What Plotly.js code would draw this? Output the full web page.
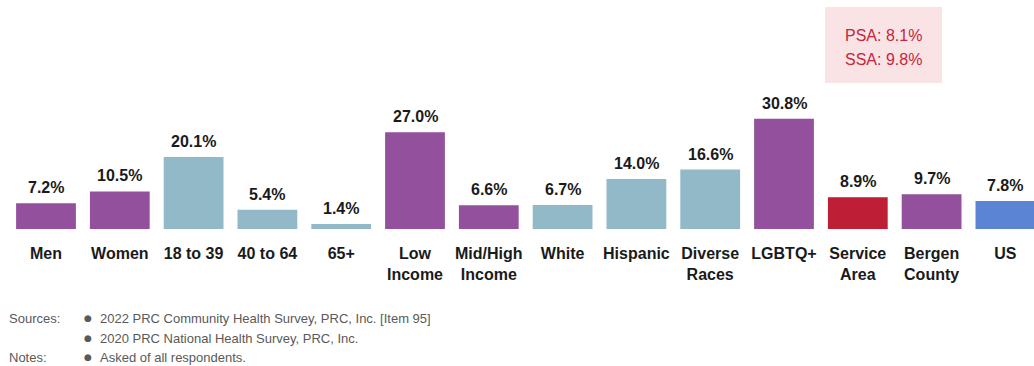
<!DOCTYPE html>
<html><head><meta charset="utf-8">
<script src="https://cdn.plot.ly/plotly-3.0.1.min.js"></script>
<style>html,body{margin:0;padding:0;background:#fff}#chart{width:1034px;height:366px}</style>
</head><body><div id="chart"></div>
<script>
var categories = ["Men","Women","18 to 39","40 to 64","65+","Low<br>Income","Mid/High<br>Income","White","Hispanic","Diverse<br>Races","LGBTQ+","Service<br>Area","Bergen<br>County","US"];
var values = [7.2,10.5,20.1,5.4,1.4,27.0,6.6,6.7,14.0,16.6,30.8,8.9,9.7,7.8];
var groups = ["demo","demo","age","age","age","demo","demo","age","age","age","demo","service","county","us"];
var calloutLines = ["PSA: 8.1%","SSA: 9.8%"];
var sourceLines = ["2022 PRC Community Health Survey, PRC, Inc. [Item 95]","2020 PRC National Health Survey, PRC, Inc."];
var noteLines = ["Asked of all respondents."];

var groupColor = {demo:"#93509D", age:"#91B9C8", service:"#BF1E37", county:"#93509D", us:"#5B84D4"};
var W = 1034, H = 366, mb = 137, plotH = H - mb;
var pxPerUnit = 3.58;
var pitch = 73.8, firstCenter = 46;
var x0 = -firstCenter / pitch;
function px(X){ return X / W; }
function py(Y){ return (plotH - Y) / plotH; }
var REG = "Liberation Sans, Arial, sans-serif";

var trace = {
  type: "bar", x: categories, y: values,
  marker: {color: groups.map(function(g){return groupColor[g];})},
  hoverinfo: "none"
};

var annotations = categories.map(function(c, i){
  return {x: c, y: values[i], xref: "x", yref: "y", text: values[i].toFixed(1) + "%",
    showarrow: false, yanchor: "bottom", yshift: 5,
    font: {family: REG, size: 16, color: "#1a1a1a", weight: "bold"}};
});
calloutLines.forEach(function(t, i){
  annotations.push({xref:"paper", yref:"paper", x: px(843), y: py([35, 60][i]), xanchor:"left", yanchor:"middle",
    align:"left", showarrow:false, text: t, font:{family: REG, size: 16, color:"#C8243E"}});
});
var footFont = {family: REG, size: 13, color:"#595959"};
annotations.push({xref:"paper", yref:"paper", x: px(7), y: py(318), xanchor:"left", yanchor:"middle", showarrow:false, text:"Sources:", font: footFont});
annotations.push({xref:"paper", yref:"paper", x: px(7), y: py(357), xanchor:"left", yanchor:"middle", showarrow:false, text:"Notes:", font: footFont});
sourceLines.concat(noteLines).forEach(function(t, i){
  var Y = [318, 338, 357][i];
  annotations.push({xref:"paper", yref:"paper", x: px(88), y: py(Y), xanchor:"center", yanchor:"middle", showarrow:false, text:"●", font:{family: "DejaVu Sans, sans-serif", size: 9, color:"#595959"}});
  annotations.push({xref:"paper", yref:"paper", x: px(98), y: py(Y), xanchor:"left", yanchor:"middle", showarrow:false, text:t, font: footFont});
});

var layout = {
  width: W, height: H,
  margin: {l:0, r:0, t:0, b:mb, pad:0},
  paper_bgcolor:"#fff", plot_bgcolor:"#fff",
  showlegend:false, bargap: 0.19,
  xaxis: {type:"category", range:[x0, x0 + W / pitch], showgrid:false, zeroline:false, showline:false, ticks:"",
    ticklabelstandoff: 13,
    tickfont:{family: REG, size:16, color:"#1a1a1a", weight:"bold"}, fixedrange:true},
  yaxis: {range:[0, plotH / pxPerUnit], visible:false, fixedrange:true},
  shapes: [{type:"rect", xref:"paper", yref:"paper", x0: px(825), x1: px(942), y0: py(83), y1: py(7),
    fillcolor:"#F9E3E5", line:{width:0}, layer:"below"}],
  annotations: annotations
};
Plotly.newPlot("chart", [trace], layout, {staticPlot:true, displayModeBar:false});
</script></body></html>
